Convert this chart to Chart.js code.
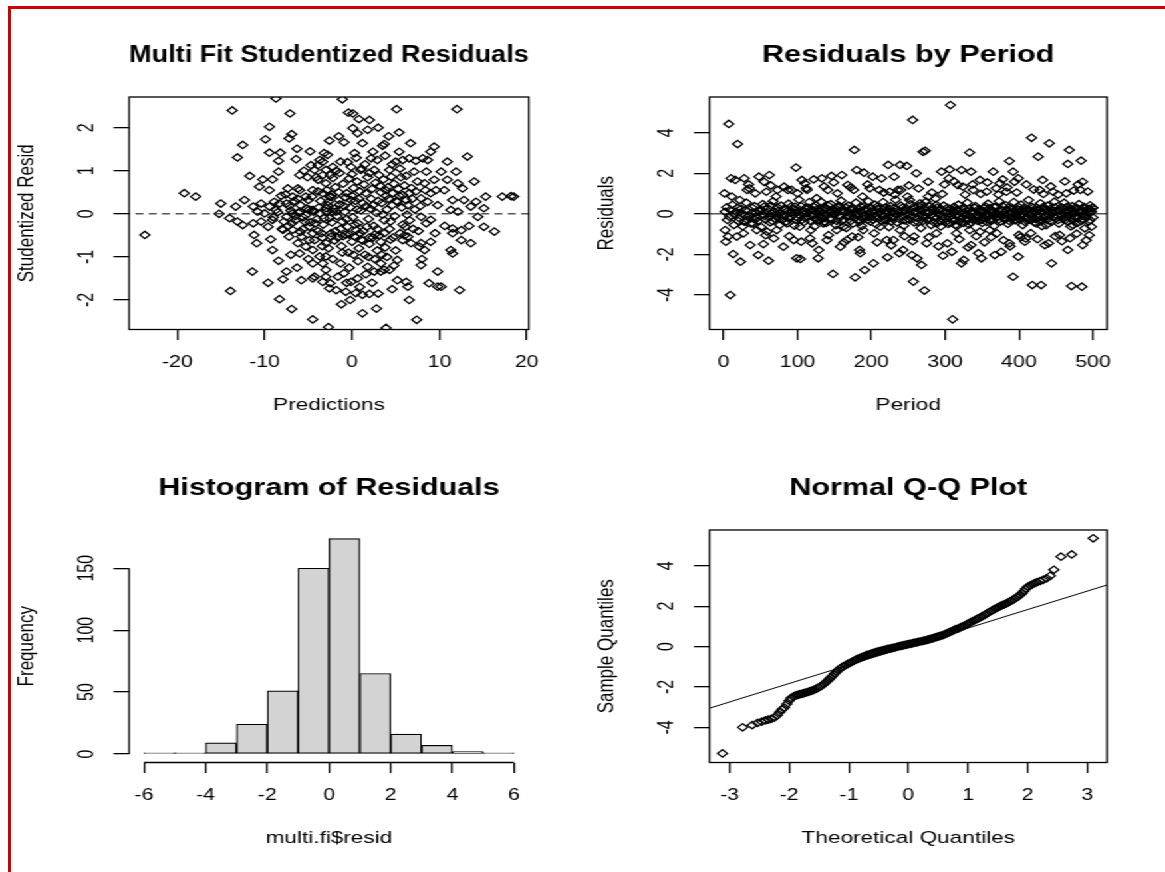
<!DOCTYPE html>
<html>
<head>
<meta charset="utf-8">
<script src="https://cdn.jsdelivr.net/npm/chart.js@4.4.0/dist/chart.umd.min.js"></script>
<style>
html, body { margin: 0; padding: 0; background: #fff; overflow: hidden; }
#stage { position: absolute; left: 0; top: 0; width: 876px; height: 872px; transform: scaleX(1.33); transform-origin: 0 0; }
#stage canvas { position: absolute; }
.red { position: absolute; background: #d10000; }
</style>
</head>
<body>
<div id="stage">
    <canvas id="fit" width="436" height="433" style="left:0;top:0;width:436px;height:433px"></canvas>
    <canvas id="period" width="440" height="433" style="left:436px;top:0;width:440px;height:433px"></canvas>
    <canvas id="hist" width="436" height="433" style="left:0;top:433px;width:436px;height:433px"></canvas>
    <canvas id="qq" width="440" height="433" style="left:436px;top:433px;width:440px;height:433px"></canvas>
</div>
<div class="red" style="left:8px;top:6px;width:1157px;height:2.5px"></div>
<div class="red" style="left:8px;top:6px;width:2.7px;height:866px"></div>
<script>
// predictions vs studentized residuals
const fitPoints = [
    [-8.7,2.68],[-13.7,2.40],[-7.1,2.33],[-9.45,2.02],[-6.9,1.85],[-7.2,1.75],[-9.9,1.73],[-12.5,1.60],[-6.3,1.51],
    [-9.45,1.42],[-8.2,1.42],[-13.1,1.31],[-8.4,1.23],[-6.4,1.27],[-3.2,1.41],[-3.7,1.25],[-3.9,1.13],[-8.4,0.98],
    [-11.7,0.88],[-10.2,0.80],[-9.1,0.80],[-6.0,0.90],[-5.1,0.85],[-4.1,0.85],[-10.6,0.63],[-9.45,0.55],[-7.35,0.59],
    [-6.2,0.59],[-19.2,0.48],[-17.9,0.40],[-15.0,0.24],[-13.3,0.17],[-12.3,0.32],[-11.3,0.17],[-10.4,0.24],[-15.2,0.0],
    [-14.0,-0.10],[-13.1,-0.18],[-12.5,-0.26],[-11.3,-0.22],[-10.4,-0.18],[-11.2,-0.49],[-10.9,-0.68],[-9.3,-0.59],
    [-9.1,-0.84],[-8.4,-1.09],[-23.7,-0.49],[-11.4,-1.34],[-9.6,-1.60],[-7.5,-1.34],[-7.9,-1.52],[-13.9,-1.79],
    [-8.3,-1.98],[-6.9,-2.21],[-5.8,-1.54],[-4.5,-1.50],[-3.0,-1.46],[-2.5,-1.61],[-4.5,-2.45],[-2.7,-2.63],
    [-4.9,-0.61],[-4.5,-0.84],[-3.7,-0.99],[-3.35,-1.15],[-3.0,-1.30],[-6.8,-0.37],[-5.8,-0.53],[-4.9,-0.30],
    [-3.5,-0.45],[-4.5,0.55],[-3.35,0.48],[-2.6,0.40],[-3.0,0.71],[-2.2,0.83],[-3.35,0.90],[-6.0,0.55],[-5.3,0.40],
    [-6.8,0.40],[-7.5,0.24],[-3.35,1.21],[-3.0,1.02],[-2.8,1.37],[-2.2,1.09],[-7.5,-0.07],[-6.8,0.01],[-6.0,0.05],
    [-5.3,-0.03],[-4.5,0.09],[-3.7,0.01],[-3.0,0.13],[-2.2,0.05],[-9.45,0.17],[-8.7,0.09],[-8.3,0.24],[-10.0,0.01],
    [-9.1,-0.14],[-7.9,-0.37],[-7.2,-0.53],[-6.2,-0.68],[-5.3,-0.76],[-4.3,-0.61],[-3.0,-0.68],[-2.4,-0.53],
    [-6.0,-0.92],[-4.5,-1.15],[-3.0,-0.99],[-4.3,-1.46],[-3.35,-1.58],[-2.6,-1.73],[-3.9,0.79],[-4.3,1.02],[-4.7,1.13],
    [-1.1,2.66],[0.1,2.33],[2.0,2.18],[5.1,2.43],[12.0,2.43],[0.1,1.99],[0.65,1.87],[5.4,1.89],[-0.9,1.66],[1.2,1.64],
    [3.5,1.58],[3.7,1.62],[6.7,1.64],[9.4,1.56],[9.0,1.44],[5.4,1.44],[13.2,1.33],[0.3,1.41],[2.2,1.29],[2.4,1.44],
    [8.1,1.29],[8.65,1.25],[5.0,1.21],[5.8,1.25],[6.55,1.29],[7.3,1.23],[10.9,1.21],[-1.3,1.21],[-0.1,1.09],[1.0,1.02],
    [2.55,1.02],[3.1,0.90],[4.3,1.02],[4.5,0.86],[5.6,0.85],[7.1,0.98],[8.5,0.98],[10.2,0.98],[11.9,0.98],[7.5,0.75],
    [8.3,0.71],[9.4,0.79],[10.9,0.79],[12.1,0.71],[14.0,0.75],[12.65,0.59],[9.6,0.55],[9.0,0.48],[10.55,0.55],
    [6.55,0.48],[5.8,0.44],[4.65,0.48],[3.9,0.55],[15.3,0.40],[17.2,0.40],[18.2,0.41],[18.5,0.40],[11.5,0.32],
    [12.8,0.32],[14.2,0.28],[7.9,0.36],[8.65,0.28],[6.2,0.32],[5.2,0.28],[11.3,0.09],[12.1,0.05],[13.6,0.17],
    [15.1,0.13],[14.4,-0.07],[7.9,-0.07],[9.0,-0.14],[8.5,-0.22],[11.5,-0.34],[12.5,-0.38],[13.4,-0.28],[15.1,-0.30],
    [16.3,-0.41],[13.6,-0.68],[11.5,-0.45],[12.5,-0.61],[6.4,-0.53],[5.8,-0.61],[6.75,-0.68],[7.9,-0.68],[9.0,-0.65],
    [8.3,-0.84],[7.7,-0.76],[11.3,-0.84],[11.5,-0.92],[5.2,-1.07],[7.9,-1.19],[9.8,-1.34],[3.7,-1.30],[4.3,-1.30],
    [3.3,-1.34],[5.2,-1.54],[6.2,-1.58],[6.4,-1.69],[8.8,-1.61],[9.8,-1.69],[10.2,-1.69],[12.3,-1.77],[6.55,-2.0],
    [1.2,-2.31],[7.4,-2.46],[-0.7,-1.81],[0.45,-1.84],[1.2,-1.88],[2.0,-1.86],[-1.8,-1.77],[-1.6,-1.46],[-0.9,-1.38],
    [-0.1,-1.58],[0.65,-1.50],[1.8,-1.23],[2.55,-1.34],[3.3,-1.15],[3.9,-2.65],
    [-2.0,0.12],[-1.7,-0.05],[-1.4,0.22],[-1.1,-0.18],[-0.8,0.05],[-0.5,-0.30],[-0.2,0.15],[0.1,-0.08],[0.4,0.30],
    [0.7,-0.22],[1.0,0.08],[1.3,-0.40],[1.6,0.18],[1.9,-0.12],[2.2,0.35],[2.5,-0.28],[2.8,0.02],[3.1,-0.50],[3.4,0.25],
    [3.7,-0.15],[4.0,0.10],[4.3,-0.35],[4.6,0.20],[4.9,-0.05],[-2.3,0.45],[-1.9,0.62],[-1.5,0.50],[-1.0,0.70],
    [-0.6,0.48],[-0.3,0.82],[0.2,0.60],[0.6,0.75],[0.9,0.52],[1.4,0.68],[1.8,0.85],[2.3,0.58],[2.7,0.72],[3.2,0.65],
    [3.6,0.80],[4.1,0.62],[4.8,0.70],[5.3,0.58],[6.0,0.66],[6.8,0.60],[7.3,0.52],[-2.4,-0.45],[-2.0,-0.62],[-1.6,-0.55],
    [-1.2,-0.75],[-0.7,-0.48],[-0.4,-0.90],[0.0,-0.65],[0.3,-0.52],[0.8,-0.80],[1.1,-0.60],[1.5,-0.95],[2.0,-0.70],
    [2.4,-0.55],[2.9,-0.85],[3.3,-0.65],[3.8,-0.78],[4.4,-0.60],[5.0,-0.85],[5.5,-0.45],[6.1,-0.30],[6.6,-0.15],
    [7.2,0.10],[5.7,0.15],[6.3,-0.02],[-2.6,-0.10],[-2.8,0.20],[-3.3,-0.25],[-3.6,0.30],[-4.0,-0.12],[-4.4,0.05],
    [-4.8,-0.20],[-5.2,0.12],[-5.6,-0.08],[-6.1,0.02],[-6.5,-0.15],[-7.0,0.08],[-7.8,-0.18],[-8.5,0.04],[-9.0,-0.08],
    [-1.8,1.00],[-0.5,1.20],[0.5,1.30],[1.5,1.15],[2.9,1.25],[3.8,1.35],[4.6,1.15],[-2.2,-1.05],[-1.3,-1.15],
    [-0.3,-1.25],[0.7,-1.10],[1.6,-1.40],[2.6,-1.05],[4.0,-1.00],[4.8,-1.20],[-0.6,-1.60],[0.9,-1.70],[2.3,-1.60],
    [3.0,-1.85],[-1.2,-2.10],[2.8,-2.20],[4.6,-1.75],[-0.2,-2.0],[-3.9,-0.40],[-4.6,0.40],[-5.9,-0.42],[-6.6,0.30],
    [-7.3,-0.28],[-8.1,0.42],[-2.9,0.55],[-3.4,-0.75],[-5.0,-1.05],[-6.3,-1.25],[-7.0,-0.95],[-5.5,1.00],[-4.8,1.45],
    [-2.6,1.70],[-1.5,1.80],[1.8,1.95],[3.0,2.00],[4.2,1.80],[0.8,2.20],[-0.4,2.35],
    [-7.2,0.18],[-6.5,-0.05],[-5.9,0.20],[-5.4,-0.18],[-4.9,0.10],[-4.2,-0.22],[-3.8,0.15],[-3.2,-0.10],[-2.7,0.28],
    [-2.3,-0.20],[-1.8,0.05],[-1.3,-0.35],[-0.9,0.18],[-0.6,-0.12],[-0.1,0.32],[0.3,-0.25],[0.6,0.10],[0.9,-0.45],
    [1.2,0.25],[1.7,-0.30],[2.1,0.12],[2.6,-0.48],[3.0,0.30],[3.5,-0.02],[3.9,0.42],[4.4,-0.18],[5.1,0.30],[5.8,-0.25],
    [6.4,0.20],[-6.9,-0.22],[-6.2,0.35],[-5.6,-0.35],[-5.0,0.32],[-4.5,-0.45],[-3.9,0.52],[-3.4,-0.55],[-2.9,0.05],
    [-2.4,0.40],[-1.9,-0.40],[-1.5,0.32],[-1.0,-0.52],[-0.7,0.38],[-0.3,-0.48],[0.0,0.42],[0.5,-0.38],[0.8,0.35],
    [1.2,-0.62],[1.6,0.48],[2.0,-0.55],[2.4,0.20],[2.9,-0.35],[3.3,0.50],[3.7,-0.45],[4.2,0.35],[4.7,-0.55],[5.4,0.42],
    [6.0,-0.50],[6.9,0.35],[7.6,-0.40],[-8.9,0.28],[-8.0,-0.35],[-7.6,0.45],[-9.6,-0.30],[-10.8,0.05],[-1.4,0.95],
    [0.0,0.92],[1.1,1.05],[2.0,0.95],[-2.5,0.90],[-1.1,-0.90],[0.2,-0.95],[1.9,-1.00],[3.4,-0.95],[-2.7,-0.80],
    [5.5,1.05],[6.2,0.88],[7.8,0.18],[8.4,0.55],[9.8,0.20],[10.6,-0.28],[9.5,-0.45],[7.0,-0.35],[8.0,-1.05]
];

// period vs residual (top-right panel)
const periodPoints = [
    [7,4.43],[19,3.44],[177,3.15],[98,2.28],[9,-4.0],[148,-2.96],[178,-3.13],[191,-2.77],[203,-2.44],[222,-2.14],
    [13,-1.98],[23,-2.36],[47,-2.03],[61,-2.31],[99,-2.19],[104,-2.22],[128,-2.19],[185,-1.94],[184,-1.78],[36,-1.54],
    [54,-1.49],[68,-1.21],[81,-1.62],[95,-1.29],[105,-1.37],[117,-1.21],[129,-1.78],[140,-1.29],[158,-1.62],[167,-1.29],
    [2,-0.80],[6,-1.12],[3,-1.37],[27,-0.96],[18,-1.12],[37,-0.47],[45,-0.80],[59,-0.88],[72,-0.80],[86,-0.47],
    [103,-0.63],[118,-0.80],[135,-0.47],[153,-0.80],[162,-0.63],[174,-1.12],[189,-0.80],[204,-0.96],[212,-0.63],
    [221,-1.29],[230,-1.29],[239,-0.80],[10,1.75],[16,1.67],[28,1.75],[35,1.26],[48,1.83],[62,1.91],[55,1.58],
    [73,1.18],[82,1.34],[92,1.18],[106,1.67],[112,1.26],[122,1.70],[133,1.75],[146,1.87],[160,1.91],[180,2.16],
    [190,2.03],[202,1.83],[214,1.75],[223,2.41],[239,2.41],[231,1.83],[236,1.18],[248,2.36],[1,1.01],[11,0.85],
    [22,0.68],[32,1.18],[43,1.01],[58,1.09],[71,0.85],[87,1.18],[100,1.01],[113,1.18],[126,0.77],[141,1.18],
    [154,1.01],[168,1.42],[176,1.18],[188,0.85],[198,1.26],[211,1.18],[225,1.09],[240,1.18],[249,0.85],
    [307,5.36],[256,4.63],[310,-5.2],[417,3.75],[441,3.48],[468,3.15],[484,2.62],[466,2.46],[270,3.06],[273,3.11],
    [333,3.02],[426,2.82],[387,2.60],[295,2.08],[306,2.19],[322,2.16],[335,2.08],[365,2.08],[392,2.08],[261,2.0],
    [277,1.58],[305,1.75],[317,1.42],[347,1.67],[374,1.51],[378,1.70],[399,1.75],[394,1.58],[432,1.67],[486,1.58],
    [483,1.18],[464,1.01],[446,1.09],[428,1.18],[324,1.34],[338,1.18],[356,1.09],[369,1.26],[383,1.09],[257,-3.34],
    [272,-3.78],[392,-3.10],[418,-3.51],[430,-3.51],[471,-3.56],[485,-3.59],[444,-2.44],[297,-2.06],[309,-1.87],
    [322,-2.44],[325,-2.27],[335,-1.54],[345,-1.94],[349,-2.19],[367,-2.03],[376,-1.87],[399,-2.11],[387,-1.45],
    [408,-1.37],[435,-1.54],[466,-1.78],[486,-1.54],[238,-1.94],[243,-1.78],[255,-2.03],[262,-2.19],[268,-2.52],
    [258,-1.12],[275,-1.45],[288,-0.96],[315,-0.96],[333,-0.80],[347,-0.88],[360,-0.80],[370,-0.96],[400,-1.04],
    [409,-1.21],[424,-0.47],[437,-0.55],[455,-1.04],[473,-0.55],[489,-0.71],[498,-0.63],[252,0.68],[266,0.52],
    [277,0.85],[288,0.44],
    [4,0.32],[8,-0.15],[12,0.45],[14,-0.55],[17,0.10],[20,-0.35],[24,0.25],[26,-0.62],[29,-0.08],[31,0.55],[33,-0.30],
    [38,0.05],[40,-0.48],[42,0.38],[46,-0.20],[49,0.12],[51,-0.65],[53,0.48],[56,-0.10],[60,0.28],[63,-0.42],[65,0.02],
    [67,0.62],[70,-0.25],[74,0.15],[76,-0.55],[78,0.40],[80,-0.05],[83,0.22],[85,-0.38],[88,0.50],[90,-0.12],[93,0.08],
    [96,-0.58],[97,0.35],[101,-0.22],[102,0.70],[107,0.05],[109,-0.40],[111,0.28],[114,-0.15],[116,0.58],[119,-0.02],
    [121,0.18],[123,-0.62],[125,0.42],[127,-0.30],[130,0.10],[132,0.60],[134,-0.18],[137,0.25],[139,-0.45],[143,0.05],
    [145,0.48],[147,-0.25],[150,0.15],[152,-0.55],[155,0.32],[157,-0.08],[159,0.65],[161,-0.35],[164,0.12],[166,-0.70],
    [169,0.40],[171,-0.12],[173,0.22],[175,-0.48],[179,0.55],[181,0.02],[183,-0.28],[186,0.35],[187,-0.60],[192,0.18],
    [194,-0.15],[196,0.62],[199,-0.38],[201,0.08],[205,0.45],[207,-0.52],[209,0.25],[213,-0.05],[216,0.58],[218,-0.32],
    [220,0.12],[224,-0.65],[226,0.38],[228,-0.18],[233,0.70],[235,-0.42],[237,0.05],[242,0.30],[244,-0.58],[246,0.15],
    [250,-0.25],[253,0.48],[259,0.05],[263,-0.40],[265,0.20],[267,-0.70],[269,0.42],[271,-0.12],[274,0.60],[276,-0.30],
    [279,0.08],[281,-0.55],[283,0.30],[285,-0.15],[287,0.75],[290,-0.45],[292,0.18],[294,-0.62],[298,0.40],[300,-0.22],
    [302,0.05],[304,-0.50],[308,0.25],[311,-0.35],[313,0.10],[316,-0.60],[318,0.45],[320,-0.10],[323,-0.40],[326,0.22],
    [328,-0.25],[330,0.55],[332,-0.52],[336,0.02],[339,-0.30],[341,0.38],[343,-0.15],[346,0.12],[350,-0.45],[352,0.30],
    [354,-0.05],[358,0.50],[361,-0.28],[363,0.08],[366,-0.60],[368,0.35],[371,-0.12],[373,0.62],[375,-0.38],[377,0.15],
    [380,-0.20],[382,0.42],[385,-0.50],[389,0.05],[391,-0.18],[393,0.58],[396,-0.32],[398,0.20],[401,-0.08],[403,0.45],
    [405,-0.55],[407,0.12],[411,-0.25],[413,0.68],[415,-0.02],[419,0.30],[421,-0.42],[423,0.10],[427,-0.18],[429,0.52],
    [431,-0.60],[434,0.22],[436,-0.10],[439,0.40],[442,-0.35],[445,0.05],[448,0.60],[450,-0.22],[452,0.18],[454,-0.48],
    [457,0.32],[459,-0.08],[461,0.55],[463,-0.30],[467,0.12],[470,-0.62],[472,0.38],[475,-0.15],[477,0.25],[479,-0.45],
    [481,0.48],[482,0.05],[487,-0.28],[488,0.35],[490,-0.10],[492,0.20],[494,-0.38],[496,0.42],[497,0.08],[499,0.30],
    [500,-0.18],
    [34,1.45],[57,-1.05],[64,1.40],[89,-1.10],[110,1.50],[120,-1.45],[136,1.35],[142,-1.05],[149,1.55],[163,-1.40],
    [172,1.30],[182,-1.15],[195,1.45],[208,-1.40],[217,1.05],[227,-1.55],[232,0.95],[245,-1.10],[251,1.40],[256,-1.35],
    [264,1.25],[278,-1.15],[282,1.05],[291,-1.60],[296,0.98],[299,1.45],[303,-1.45],[312,1.60],[319,-1.25],[327,0.95],
    [331,-1.65],[337,1.45],[342,-1.10],[348,0.98],[353,-1.40],[357,1.55],[362,-1.15],[372,0.95],[379,-1.30],[384,1.30],
    [388,-1.60],[397,1.05],[402,-1.15],[410,1.45],[416,-0.95],[420,1.20],[425,-1.25],[433,0.98],[440,-1.45],[443,1.35],
    [449,-1.10],[453,0.95],[458,-1.35],[462,1.60],[469,-1.20],[474,1.15],[478,-0.98],[480,1.45],[491,-1.30],[493,1.10],
    [495,-1.05],
    [2,0.10],[5,-0.30],[9,0.20],[15,-0.05],[19,0.30],[21,-0.20],[25,0.02],[28,-0.38],[30,0.18],[35,-0.12],[39,0.30],
    [41,-0.25],[44,0.08],[47,-0.35],[50,0.22],[52,-0.02],[55,0.35],[57,-0.28],[59,0.05],[62,-0.15],[64,0.40],[66,-0.35],
    [69,0.10],[71,-0.05],[73,0.32],[75,-0.18],[77,0.02],[79,-0.30],[82,0.25],[84,-0.08],[87,0.15],[89,-0.25],[91,0.35],
    [94,-0.02],[95,0.22],[98,-0.30],[100,0.10],[103,-0.08],[105,0.38],[106,-0.30],[108,0.15],[110,-0.18],[112,0.02],
    [115,0.30],[117,-0.35],[118,0.20],[120,-0.10],[122,0.35],[124,-0.25],[126,0.05],[128,0.25],[129,-0.12],[131,-0.32],
    [133,0.20],[135,0.02],[136,-0.40],[138,0.30],[140,-0.05],[141,0.42],[144,-0.22],[146,0.12],[148,-0.02],[151,0.28],
    [153,-0.35],[154,0.05],[156,0.40],[158,-0.15],[160,0.20],[162,-0.28],[163,0.08],[165,0.32],[167,-0.12],[170,0.05],
    [172,-0.35],[174,0.30],[177,-0.20],[178,0.12],[180,-0.05],[182,0.25],[184,-0.40],[185,0.10],[188,-0.22],[190,0.38],
    [191,-0.08],[193,0.28],[195,-0.30],[197,0.05],[198,-0.12],[200,0.30],[202,-0.28],[204,0.15],[206,-0.10],[208,0.35],
    [210,-0.20],[211,0.05],[214,-0.35],[215,0.22],[217,-0.08],[219,0.30],[221,-0.30],[222,0.10],[223,-0.12],[225,0.25],
    [227,-0.38],[229,0.08],[231,-0.15],[232,0.30],[234,-0.05],[236,0.15],[238,-0.25],[240,0.40],[241,-0.10],[243,0.12],
    [245,-0.32],[247,0.28],[249,-0.05],[252,-0.30],[254,0.15],[255,-0.12],[257,0.32],[258,-0.42],[260,0.10],[262,-0.20],
    [264,0.38],[266,-0.05],[268,0.18],[270,-0.35],[272,0.25],[273,-0.15],[275,0.05],[277,-0.30],[278,0.40],[280,-0.08],
    [282,0.20],[284,-0.40],[286,0.12],[288,-0.20],[289,0.30],[291,-0.02],[293,-0.35],[295,0.22],[297,-0.12],[299,0.08],
    [301,-0.40],[303,0.30],[305,-0.18],[306,0.02],[307,-0.45],[309,0.15],[310,-0.25],[312,0.35],[314,-0.55],[315,-0.10],
    [317,0.20],[319,-0.38],[321,0.05],[322,-0.22],[324,0.30],[325,-0.45],[327,-0.05],[329,0.15],[331,-0.30],[333,0.25],
    [334,-0.12],[335,-0.42],[337,0.10],[338,-0.25],[340,0.30],[342,-0.05],[344,-0.35],[345,0.22],[347,-0.15],[348,0.05],
    [349,-0.30],[351,0.15],[353,-0.20],[355,0.35],[356,-0.40],[357,0.02],[359,-0.12],[360,0.28],[362,-0.35],[364,0.15],
    [365,-0.05],[367,0.32],[369,-0.22],[370,0.05],[372,-0.30],[374,0.22],[376,-0.10],[378,0.38],[379,-0.02],[381,-0.28],
    [383,0.18],[384,-0.12],[386,0.30],[387,-0.35],[388,0.08],[390,-0.18],[392,0.25],[394,-0.30],[395,0.05],[397,-0.12],
    [399,0.35],[400,-0.25],[402,0.15],[404,-0.05],[406,0.28],[408,-0.40],[409,0.10],[410,-0.18],[412,0.22],[414,-0.30],
    [416,0.05],[417,0.35],[418,-0.15],[420,0.12],[422,-0.25],[424,0.30],[425,-0.05],[426,0.18],[428,-0.35],[430,0.08],
    [432,-0.20],[433,0.35],[435,-0.12],[437,0.20],[438,-0.30],[440,0.10],[441,-0.05],[443,0.25],[444,-0.40],[446,0.15],
    [447,-0.15],[449,0.32],[451,-0.08],[453,-0.30],[455,0.18],[456,-0.05],[458,0.30],[460,-0.25],[462,0.08],[464,-0.12],
    [465,0.35],[466,-0.38],[468,0.15],[469,-0.02],[471,0.25],[473,-0.30],[474,0.05],[476,-0.15],[478,0.30],[480,-0.22],
    [483,0.12],[484,-0.35],[485,0.20],[486,-0.05],[489,0.28],[491,-0.18],[493,0.05],[495,0.25],[496,-0.30],[498,0.12],
    [500,0.30]
];

// histogram of multi.fit$resid: lower bin edges and counts
const histBreaks = [-6, -5, -4, -3, -2, -1, 0, 1, 2, 3, 4, 5];
const histCounts = [1, 1, 9, 24, 51, 150, 174, 65, 16, 7, 2, 1];

// normal Q-Q: [theoretical, sample]
const qqPoints = [
    [-3.12,-5.29],[-2.78,-4.00],[-2.62,-3.89],[-2.53,-3.78],[-2.46,-3.72],[-2.40,-3.66],[-2.35,-3.62],[-2.30,-3.58],
    [-2.25,-3.52],[-2.20,-3.40],[-2.16,-3.25],[-2.12,-3.12],[-2.08,-3.02],[-2.04,-2.85],[-2.00,-2.68],[-1.97,-2.55],
    [-1.93,-2.48],[-1.90,-2.43],[-1.87,-2.40],[-1.84,-2.38],[-1.81,-2.35],[-1.78,-2.33],[-1.75,-2.30],[-1.72,-2.28],
    [-1.69,-2.25],[-1.66,-2.22],[-1.63,-2.19],[-1.60,-2.16],[-1.57,-2.12],[-1.54,-2.08],[-1.51,-2.03],[-1.48,-1.98],
    [-1.45,-1.92],[-1.42,-1.85],[-1.39,-1.78],[-1.36,-1.70],[-1.33,-1.62],[-1.30,-1.53],[-1.27,-1.44],[-1.24,-1.35],
    [-1.21,-1.26],[-1.18,-1.17],[-1.15,-1.09],[-1.12,-1.03],[-1.09,-0.98],[-1.06,-0.93],[-1.03,-0.88],[-1.00,-0.83],
    [-0.97,-0.79],[-0.94,-0.74],[-0.91,-0.70],[-0.88,-0.65],[-0.85,-0.61],[-0.82,-0.57],[-0.79,-0.53],[-0.76,-0.50],
    [-0.73,-0.46],[-0.70,-0.43],[-0.67,-0.40],[-0.64,-0.37],[-0.61,-0.34],[-0.58,-0.31],[-0.55,-0.28],[-0.52,-0.26],
    [-0.49,-0.23],[-0.46,-0.21],[-0.43,-0.19],[-0.40,-0.17],[-0.37,-0.14],[-0.34,-0.12],[-0.31,-0.10],[-0.28,-0.08],
    [-0.25,-0.06],[-0.22,-0.04],[-0.19,-0.01],[-0.16,0.01],[-0.13,0.03],[-0.10,0.05],[-0.07,0.07],[-0.04,0.09],
    [-0.01,0.11],[0.02,0.13],[0.05,0.15],[0.08,0.17],[0.11,0.19],[0.14,0.21],[0.17,0.23],[0.20,0.25],[0.23,0.27],
    [0.26,0.29],[0.29,0.31],[0.32,0.34],[0.35,0.36],[0.38,0.39],[0.41,0.41],[0.44,0.44],[0.47,0.47],[0.50,0.50],
    [0.53,0.52],[0.56,0.55],[0.59,0.58],[0.62,0.62],[0.65,0.66],[0.68,0.70],[0.71,0.74],[0.74,0.78],[0.77,0.82],
    [0.80,0.86],[0.83,0.89],[0.86,0.93],[0.89,0.97],[0.92,1.01],[0.95,1.05],[0.98,1.10],[1.01,1.15],[1.04,1.20],
    [1.07,1.24],[1.10,1.28],[1.13,1.33],[1.16,1.38],[1.19,1.42],[1.22,1.47],[1.25,1.52],[1.28,1.57],[1.31,1.62],
    [1.34,1.68],[1.37,1.73],[1.40,1.78],[1.43,1.83],[1.46,1.88],[1.49,1.93],[1.52,1.97],[1.55,2.01],[1.58,2.05],
    [1.61,2.09],[1.64,2.13],[1.67,2.18],[1.70,2.22],[1.73,2.27],[1.76,2.32],[1.79,2.38],[1.82,2.44],[1.85,2.50],
    [1.88,2.57],[1.91,2.65],[1.94,2.75],[1.97,2.86],[2.00,2.95],[2.04,3.02],[2.08,3.08],[2.12,3.14],[2.16,3.19],
    [2.21,3.24],[2.26,3.30],[2.32,3.38],[2.38,3.50],[2.44,3.80],[2.56,4.45],[2.74,4.56],[3.10,5.36]
];
// qqline end points
const qqLine = [[-3.4, -3.11], [3.4, 3.11]];

// tick values
const predTicks = [-20, -10, 0, 10, 20];
const studTicks = [-2, -1, 0, 1, 2];
const periodTicks = [0, 100, 200, 300, 400, 500];
const residTicks = [-4, -2, 0, 2, 4];
const histTicks = [-6, -4, -2, 0, 2, 4, 6];
const freqTicks = [0, 50, 100, 150];
const theoTicks = [-3, -2, -1, 0, 1, 2, 3];
const sampleTicks = [-4, -2, 0, 2, 4];

const FONT = "'Liberation Sans', Arial, sans-serif";

function axis(c, isX, areaLeft) {
    return {
        type: "linear",
        position: isX ? "bottom" : "left",
        min: c.min,
        max: c.max,
        offset: false,
        afterBuildTicks: s => { s.ticks = c.ticks.map(v => ({ value: v })); },
        afterFit: s => { if (isX) s.height = 103.5; else s.width = areaLeft; },
        ticks: isX
            ? { autoSkip: false, minRotation: 0, maxRotation: 0, padding: 13.3, color: "#000", font: { family: FONT, size: 16 } }
            : { autoSkip: false, minRotation: 90, maxRotation: 90, crossAlign: "center", padding: c.pad, color: "#000", font: { family: FONT, size: 16 } },
        grid: { offset: false, drawOnChartArea: false, drawTicks: true, tickLength: isX ? 10.6 : 11.7, color: "#000", lineWidth: 1.3 },
        border: { display: false },
        title: {
            display: true, text: c.title, color: "#000", font: { family: FONT, size: 17 },
            padding: isX ? { top: 0, bottom: 17.8 } : { top: 10.3, bottom: 0 }
        }
    };
}

// box around the plot region, or R-style axis lines for the histogram
const frame = {
    id: "frame",
    afterDraw(chart, args, opts) {
        const { ctx, chartArea: a, scales } = chart;
        ctx.save();
        ctx.strokeStyle = "#000";
        ctx.lineWidth = 1.3;
        if (opts.hist) {
            ctx.beginPath();
            ctx.moveTo(scales.x.getPixelForValue(histTicks[0]), a.bottom);
            ctx.lineTo(scales.x.getPixelForValue(histTicks[histTicks.length - 1]), a.bottom);
            ctx.moveTo(a.left, scales.y.getPixelForValue(freqTicks[0]));
            ctx.lineTo(a.left, scales.y.getPixelForValue(freqTicks[freqTicks.length - 1]));
            ctx.stroke();
        } else {
            ctx.strokeRect(a.left, a.top, a.right - a.left, a.bottom - a.top);
        }
        ctx.restore();
    }
};

function panel(id, type, title, padRight, areaLeft, xc, yc, datasets, hist) {
    return new Chart(document.getElementById(id), {
        type: type,
        data: { datasets: datasets },
        options: {
            responsive: false,
            animation: false,
            devicePixelRatio: 1,
            layout: { padding: { left: 0, right: padRight, top: 0, bottom: 0 } },
            plugins: {
                legend: { display: false },
                tooltip: { enabled: false },
                title: {
                    display: true, text: title, fullSize: false, color: "#000",
                    font: { family: FONT, size: 23, weight: "bold" },
                    padding: { top: 41.7, bottom: 27.7 }
                },
                frame: { hist: !!hist }
            },
            scales: { x: axis(xc, true, areaLeft), y: axis(yc, false, areaLeft) }
        },
        plugins: [frame]
    });
}

const pts = data => ({
    data: data, showLine: false, clip: 0, order: 1,
    pointStyle: "rectRot", pointRadius: 3.7, pointBorderWidth: 1.3,
    pointBorderColor: "#000", pointBackgroundColor: "rgba(0,0,0,0)"
});
const hline = (data, dash, order) => ({
    data: data, showLine: true, clip: 0, order: order,
    borderColor: "#000", borderWidth: 1, borderDash: dash, pointRadius: 0
});

panel("fit", "scatter", "Multi Fit Studentized Residuals", 38.4, 97.1,
    { min: -25.5, max: 20.23, ticks: predTicks, title: "Predictions" },
    { min: -2.685, max: 2.713, ticks: studTicks, title: "Studentized Resid", pad: 12.7 },
    [pts(fitPoints), hline([[-40, 0], [40, 0]], [6, 4], 2)]);

panel("period", "scatter", "Residuals by Period", 43.7, 97.5,
    { min: -19, max: 519, ticks: periodTicks, title: "Period" },
    { min: -5.70, max: 5.76, ticks: residTicks, title: "Residuals", pad: 12.7 },
    [pts(periodPoints), hline([[-50, 0], [600, 0]], [], 2)]);

panel("hist", "bar", "Histogram of Residuals", 38.4, 97.1,
    { min: -6.48, max: 6.48, ticks: histTicks, title: "multi.fi$resid" },
    { min: -6.9, max: 180.9, ticks: freqTicks, title: "Frequency", pad: 6.5 },
    [{
        data: histBreaks.map((b, i) => ({ x: b + 0.5, y: histCounts[i] })),
        backgroundColor: "#d3d3d3", borderColor: "#000", borderWidth: 1.2, borderSkipped: false,
        barPercentage: 1, categoryPercentage: 1
    }], true);

panel("qq", "scatter", "Normal Q-Q Plot", 43.7, 97.5,
    { min: -3.336, max: 3.331, ticks: theoTicks, title: "Theoretical Quantiles" },
    { min: -5.74, max: 5.77, ticks: sampleTicks, title: "Sample Quantiles", pad: 12.7 },
    [hline(qqLine, [], 0), pts(qqPoints)]);
</script>
</body>
</html>
